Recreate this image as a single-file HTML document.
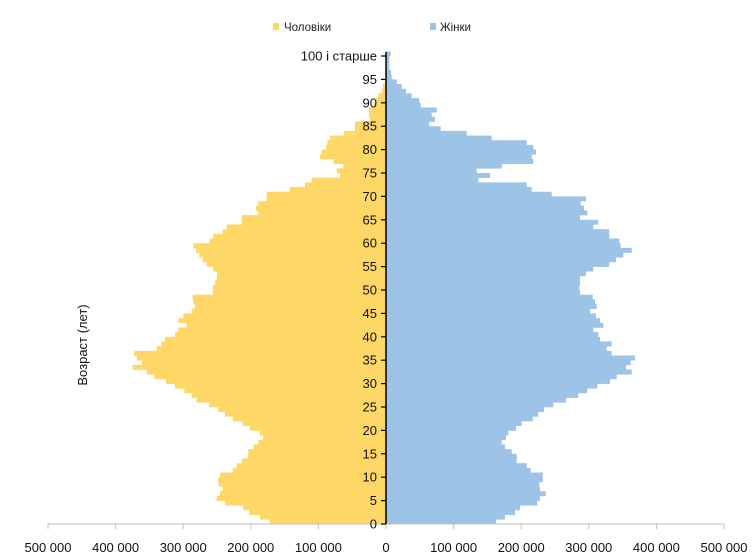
<!DOCTYPE html>
<html><head><meta charset="utf-8"><style>
html,body{margin:0;padding:0;background:#fff;width:755px;height:560px;overflow:hidden}
svg{display:block;font-family:"Liberation Sans","DejaVu Sans",sans-serif}
</style></head><body>
<svg id="s" width="755" height="560" xmlns="http://www.w3.org/2000/svg">
<rect x="273" y="23" width="6" height="7" fill="#FED766"/>
<text x="284" y="31" font-size="11.5" fill="#222">Чоловіки</text>
<rect x="430" y="23" width="6" height="7" fill="#9DC3E6"/>
<text x="440" y="31" font-size="11.5" fill="#222">Жінки</text>
<text transform="translate(87,345) rotate(-90)" text-anchor="middle" font-size="13" fill="#111">Возраст (лет)</text>
<g id="bars"></g>
<g id="axes"></g>
</svg>
<script>
var M=[116.7,126,136.7,142.7,160.7,169.3,166,163.3,167.3,167.7,166,153.3,149.3,144.3,137.7,137.7,132.7,127.7,122.7,126,136,143.3,153.3,161,167.7,176.7,189.3,194.3,201.7,211,220,231.7,239.3,253.3,244.3,249.3,252,229.3,224.3,221,211,207.7,199.3,207.7,202.7,194.3,191,192.7,193.3,173.3,173.3,171,169.3,169,172.7,179.3,183.3,186.7,190,192.7,176,172.7,163.3,159.3,144.3,144.3,127.7,130,127.7,119.3,119.3,96,81,74.3,46,49.3,42.7,52.7,66,64.3,60,58.7,56,42,31,31,16,17,17,12.7,10,7.7,4.3,3,1.3,0.8,0.6,0.5,0.4,0.3,0.3];
var F=[110,119,129,134,151.3,154,159.7,154,153.3,156.7,156.7,144.7,140.7,130.7,130.7,125.7,119,115.7,120,122.3,130,135.7,146.7,152.3,158,167.3,180,192.3,201.3,211.3,224,230.7,245.7,240,244.7,249,225.7,220.7,225.7,214,212.3,207.3,217.3,214,210,204,210.7,209,206.7,194,193.3,194,194,200,207.3,223.3,230,237.3,245.7,234.7,233.3,223.3,223.3,207.3,212.3,194,201.3,198,194.7,200,165.7,145.7,140.7,92.3,104,90.7,115.7,147.3,145.7,150,147.3,140.7,105.7,80.7,54.7,43.3,49,45.7,50.7,34.7,33.3,25.7,20,15.7,10.7,5.7,5,3.3,3.3,3.3,4.7];
var ns="http://www.w3.org/2000/svg",h=4.68,b=document.getElementById('bars'),a=document.getElementById('axes');
function el(t,o,p){var e=document.createElementNS(ns,t);for(var k in o)e.setAttribute(k,o[k]);p.appendChild(e);return e;}
for(var i=0;i<=100;i++){var y=524-h*(i+1);
el('rect',{x:386-M[i],y:y.toFixed(2),width:M[i],height:h+0.3,fill:'#FED766'},b);
el('rect',{x:386,y:y.toFixed(2),width:F[i],height:h+0.3,fill:'#9DC3E6'},b);}
el('line',{x1:48,y1:524,x2:724,y2:524,stroke:'#bfbfbf','stroke-width':1},a);
var lab=['500 000','400 000','300 000','200 000','100 000','0','100 000','200 000','300 000','400 000','500 000'];
for(var j=0;j<=10;j++){var x=48+j*67.6;el('line',{x1:x,y1:524,x2:x,y2:529,stroke:'#bfbfbf'},a);
var t=el('text',{x:x,y:552,'text-anchor':'middle','font-size':'13',fill:'#111'},a);t.textContent=lab[j];}
el('line',{x1:386,y1:52,x2:386,y2:524,stroke:'#000','stroke-width':1.5},a);
for(var k=0;k<=100;k+=5){var yy=524-h*k;el('line',{x1:381,y1:yy,x2:386,y2:yy,stroke:'#000','stroke-width':1.2},a);
var tt=el('text',{x:377,y:yy+4.5,'text-anchor':'end','font-size':'13',fill:'#111'},a);tt.textContent=k==100?'100 і старше':k;}
</script>
</body></html>
